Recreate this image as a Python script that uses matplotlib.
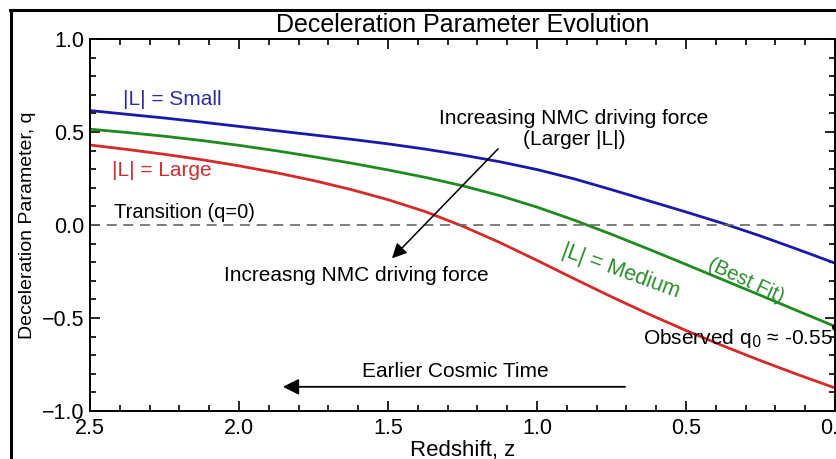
import matplotlib
matplotlib.use('Agg')
import matplotlib.pyplot as plt
from matplotlib.lines import Line2D
from matplotlib.ticker import MultipleLocator

plt.rcParams['font.family'] = ['Liberation Sans', 'DejaVu Sans']

# 数据 - 从图上读出
z = [2.5, 2.375, 2.25, 2.125, 2.0, 1.875, 1.75, 1.625, 1.5, 1.375, 1.25,
     1.125, 1.0, 0.875, 0.75, 0.625, 0.5, 0.375, 0.25, 0.125, 0.0]
q_small = [0.615, 0.595, 0.575, 0.553, 0.53, 0.507, 0.484, 0.461, 0.436, 0.408, 0.376,
           0.34, 0.298, 0.248, 0.19, 0.13, 0.07, 0.008, -0.059, -0.131, -0.205]
q_medium = [0.515, 0.497, 0.477, 0.454, 0.428, 0.399, 0.367, 0.333, 0.296, 0.256, 0.211,
            0.158, 0.096, 0.026, -0.05, -0.13, -0.212, -0.295, -0.378, -0.462, -0.545]
q_large = [0.43, 0.406, 0.38, 0.351, 0.318, 0.281, 0.239, 0.191, 0.136, 0.072, -0.006,
           -0.094, -0.19, -0.289, -0.386, -0.479, -0.567, -0.65, -0.729, -0.804, -0.876]
q0_observed = -0.55

fig = plt.figure(figsize=(8.36, 4.59), dpi=100)
ax = fig.add_axes([0.1077, 0.1046, 0.891, 0.8105])

# 外框 (左、上)
fig.add_artist(Line2D([0.013, 0.013], [0, 0.979], transform=fig.transFigure, color='black', lw=2.2))
fig.add_artist(Line2D([0.012, 1.0], [0.979, 0.979], transform=fig.transFigure, color='black', lw=2.2))

# 曲线
ax.plot(z, q_small, color='#1a1aa8', lw=2.0)
ax.plot(z, q_medium, color='#1f8a1f', lw=2.0)
ax.plot(z, q_large, color='#d42a2a', lw=2.0)
ax.plot([0.0], [q0_observed], 'o', color='black', ms=4, clip_on=False, zorder=5)

# q=0 参考线
ax.axhline(0, color='#666666', lw=1.2, ls=(0, (6, 4)))

ax.set_xlim(2.5, 0)
ax.set_ylim(-1, 1)
ax.xaxis.set_major_locator(MultipleLocator(0.5))
ax.xaxis.set_minor_locator(MultipleLocator(0.1))
ax.yaxis.set_major_locator(MultipleLocator(0.5))
ax.yaxis.set_minor_locator(MultipleLocator(0.1))
ax.tick_params(which='both', direction='in', top=True, right=True, labelsize=15.5, width=1.2)
ax.tick_params(which='major', length=7, pad=4)
ax.tick_params(axis='x', which='major', pad=5)
ax.tick_params(which='minor', length=4)
for s in ax.spines.values():
    s.set_linewidth(1.4)

ax.set_title('Deceleration Parameter Evolution', fontsize=18, pad=5)
ax.set_xlabel('Redshift, z', fontsize=16, labelpad=1)
ax.set_ylabel('Deceleration Parameter, q', fontsize=14, labelpad=4)

# 文字标注
ax.text(2.39, 0.675, '|L| = Small', color='#2e2ea0', fontsize=15, va='center')
ax.text(2.425, 0.295, '|L| = Large', color='#c83030', fontsize=15, va='center')
ax.text(2.42, 0.065, 'Transition (q=0)', color='black', fontsize=14.5, va='center')
ax.text(0.876, 0.515, 'Increasing NMC driving force\n(Larger |L|)', fontsize=15,
        ha='center', va='center', linespacing=1.1)
ax.annotate('', xy=(1.493, -0.19), xytext=(1.124, 0.42),
            arrowprops=dict(arrowstyle='-|>', color='black', lw=1.1, mutation_scale=22))
ax.text(1.607, -0.27, 'Increasng NMC driving force', fontsize=15, ha='center', va='center')
ax.text(0.72, -0.25, '|L| = Medium', color='#2a8a2a', fontsize=15.5, ha='center', va='center',
        rotation=-20, rotation_mode='anchor')
ax.text(0.30, -0.30, '(Best Fit)', color='#2a8a2a', fontsize=14.5, ha='center', va='center',
        rotation=-25, rotation_mode='anchor')
ax.text(0.006, -0.61, 'Observed q$_0$ ≈ -0.55', fontsize=15, ha='right', va='center')
ax.text(1.275, -0.79, 'Earlier Cosmic Time', fontsize=15, ha='center', va='center')
ax.annotate('', xy=(1.862, -0.87), xytext=(0.695, -0.87),
            arrowprops=dict(arrowstyle='-|>', color='black', lw=1.3, mutation_scale=24))

fig.savefig('out.png', dpi=100)
